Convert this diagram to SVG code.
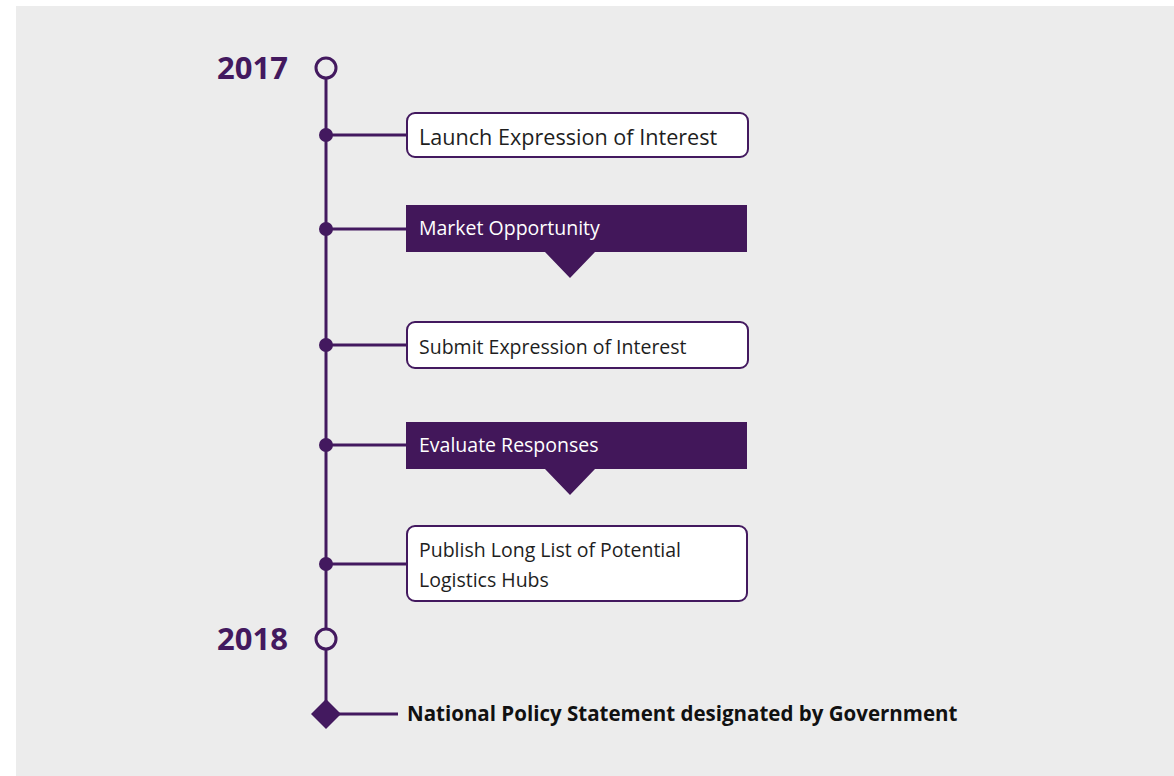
<svg xmlns="http://www.w3.org/2000/svg" width="1174" height="776" viewBox="0 0 1174 776">
<style>
.bg{fill:#ececec}
.ln{stroke:#43195f;stroke-width:3;fill:none}
.dot{fill:#43195f}
.ring{fill:#ececec;stroke:#43195f;stroke-width:3}
.box{fill:#ffffff;stroke:#43195f;stroke-width:2}
.fbox{fill:#42175a}
.t{font-family:"Open Sans","Noto Sans",sans-serif;font-size:19.5px;fill:#1e1e1e}
.tw{font-family:"Open Sans","Noto Sans",sans-serif;font-size:19.5px;fill:#ffffff}
.yr{font-family:"Open Sans","Noto Sans",sans-serif;font-size:31px;font-weight:bold;fill:#43195f}
.b{font-family:"Open Sans","Noto Sans",sans-serif;font-size:20.5px;font-weight:bold;fill:#111}
</style>
<rect class="bg" x="16" y="6" width="1158" height="770"/>
<g id="connectors">
<line class="ln" x1="326" y1="78" x2="326" y2="629"/>
<line class="ln" x1="326" y1="649" x2="326" y2="714"/>
<line class="ln" x1="326" y1="135" x2="407" y2="135"/>
<line class="ln" x1="326" y1="229" x2="407" y2="229"/>
<line class="ln" x1="326" y1="345" x2="407" y2="345"/>
<line class="ln" x1="326" y1="445" x2="407" y2="445"/>
<line class="ln" x1="326" y1="564" x2="407" y2="564"/>
<line class="ln" x1="326" y1="714" x2="398" y2="714"/>
<circle class="dot" cx="326" cy="135" r="7"/>
<circle class="dot" cx="326" cy="229" r="7"/>
<circle class="dot" cx="326" cy="345" r="7"/>
<circle class="dot" cx="326" cy="445" r="7"/>
<circle class="dot" cx="326" cy="564" r="7"/>
</g>
<g id="y2017">
<circle class="ring" cx="326" cy="68" r="10"/>
<text class="yr" x="288" y="79" text-anchor="end">2017</text>
</g>
<g id="n1">
<rect class="box" x="407" y="113" width="341" height="44" rx="8"/>
<text class="t" x="419" y="145" style="font-size:21.6px">Launch Expression of Interest</text>
</g>
<g id="n2">
<path class="fbox" d="M406 205H747V252H595L570 278L545 252H406Z"/>
<text class="tw" x="419" y="235">Market Opportunity</text>
</g>
<g id="n3">
<rect class="box" x="407" y="322" width="341" height="46" rx="8"/>
<text class="t" x="419" y="354">Submit Expression of Interest</text>
</g>
<g id="n4">
<path class="fbox" d="M406 422H747V469H595L570 495L545 469H406Z"/>
<text class="tw" x="419" y="452">Evaluate Responses</text>
</g>
<g id="n5">
<rect class="box" x="407" y="526" width="340" height="75" rx="8"/>
<text class="t" x="419" y="557">Publish Long List of Potential</text>
<text class="t" x="419" y="587">Logistics Hubs</text>
</g>
<g id="y2018">
<circle class="ring" cx="326" cy="639" r="10"/>
<text class="yr" x="288" y="650" text-anchor="end">2018</text>
</g>
<g id="n6">
<path class="dot" d="M326 699L341 714L326 729L311 714Z"/>
<text class="b" x="407" y="721">National Policy Statement designated by Government</text>
</g>
</svg>
